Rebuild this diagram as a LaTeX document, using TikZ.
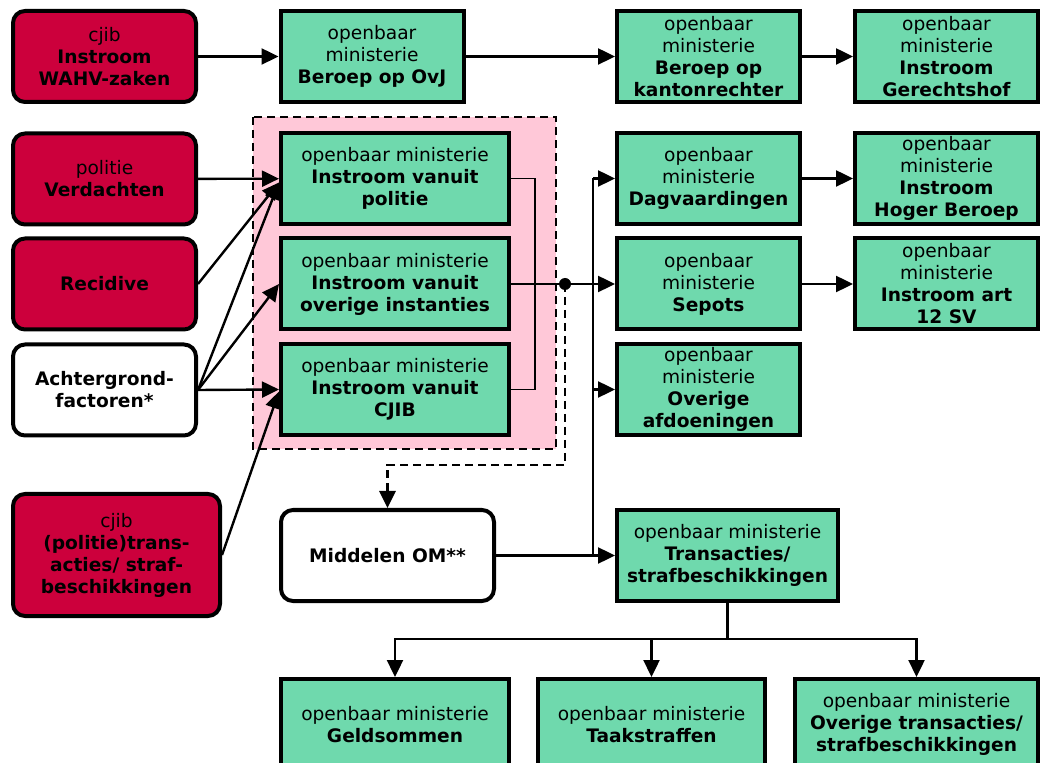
\documentclass[tikz,border=0pt]{standalone}
\usepackage{fontspec}
\setmainfont{DejaVu Sans}
\usetikzlibrary{arrows.meta}

\definecolor{omred}{RGB}{204,0,60}
\definecolor{omgreen}{RGB}{111,217,173}
\definecolor{ompink}{RGB}{255,200,216}

\tikzset{
  box/.style={draw=black, line width=2pt, align=center, inner sep=1pt,
    font=\fontsize{9.3}{11}\selectfont, minimum width=91.5pt, minimum height=45.5pt},
  redbox/.style={box, fill=omred, rounded corners=6pt},
  whitebox/.style={box, fill=white, rounded corners=6pt},
  greenbox/.style={box, fill=omgreen},
  link/.style={->, line width=1.2pt},
  thinlink/.style={line width=0.8pt},
  dashlink/.style={->, line width=1.4pt, dash pattern=on 4pt off 2.5pt}
}

\begin{document}
\begin{tikzpicture}[x=0.5pt, y=-0.5pt, >={Triangle[length=8.5pt,width=8pt]}]
  \useasboundingbox (0,0) rectangle (1042,763);
  % pink zone round the inflow boxes
  \draw[fill=ompink, line width=1.4pt, dash pattern=on 4pt off 2.5pt] (253,117) rectangle (556,449);

  % left column
  \node[redbox] (wahv) at (104.5,56.5) {cjib\\\textbf{Instroom}\\\textbf{WAHV-zaken}};
  \node[redbox] (verdachten) at (104.5,179) {politie\\\textbf{Verdachten}};
  \node[redbox] (recidive) at (104.5,284) {\textbf{Recidive}};
  \node[whitebox] (achtergrond) at (104.5,390) {\textbf{Achtergrond-}\\\textbf{factoren*}};
  \node[redbox, minimum width=103.5pt, minimum height=61pt] (transcjib) at (116.5,555)
    {cjib\\\textbf{(politie)trans-}\\\textbf{acties/ straf-}\\\textbf{beschikkingen}};

  % top row
  \node[greenbox] (ovj) at (372,56.5) {openbaar\\ministerie\\\textbf{Beroep op OvJ}};
  \node[greenbox] (kanton) at (708.5,56.5) {openbaar\\ministerie\\\textbf{Beroep op}\\\textbf{kantonrechter}};
  \node[greenbox] (hof) at (946.5,56.5) {openbaar\\ministerie\\\textbf{Instroom}\\\textbf{Gerechtshof}};

  % inflow
  \node[greenbox, minimum width=114pt] (politie) at (395,178.5) {openbaar ministerie\\\textbf{Instroom vanuit}\\\textbf{politie}};
  \node[greenbox, minimum width=114pt] (overig) at (395,284) {openbaar ministerie\\\textbf{Instroom vanuit}\\\textbf{overige instanties}};
  \node[greenbox, minimum width=114pt] (cjibin) at (395,389.5) {openbaar ministerie\\\textbf{Instroom vanuit}\\\textbf{CJIB}};

  % outflow
  \node[greenbox] (dagv) at (708.5,178.5) {openbaar\\ministerie\\\textbf{Dagvaardingen}};
  \node[greenbox] (hoger) at (946.5,178.5) {openbaar\\ministerie\\\textbf{Instroom}\\\textbf{Hoger Beroep}};
  \node[greenbox] (sepots) at (708.5,284) {openbaar\\ministerie\\\textbf{Sepots}};
  \node[greenbox] (art12) at (946.5,284) {openbaar\\ministerie\\\textbf{Instroom art}\\\textbf{12 SV}};
  \node[greenbox] (afdoen) at (708.5,389.5) {openbaar\\ministerie\\\textbf{Overige}\\\textbf{afdoeningen}};

  \node[whitebox, minimum width=106.5pt] (middelen) at (387.5,555.5) {\textbf{Middelen OM**}};
  \node[greenbox, minimum width=110.5pt] (transom) at (727.5,555.5) {openbaar ministerie\\\textbf{Transacties/}\\\textbf{strafbeschikkingen}};

  % bottom row
  \node[greenbox, minimum width=114pt, anchor=north] (geld) at (395,677) {openbaar ministerie\\\textbf{Geldsommen}};
  \node[greenbox, minimum width=113.5pt, anchor=north] (taak) at (651.5,677) {openbaar ministerie\\\textbf{Taakstraffen}};
  \node[greenbox, minimum width=121.5pt, anchor=north] (overtrans) at (916.5,677) {openbaar ministerie\\\textbf{Overige transacties/}\\\textbf{strafbeschikkingen}};

  \coordinate (polin) at ([yshift=-2pt]politie.west);
  \coordinate (split) at (565,284);
  \coordinate (bus) at (593,284);

  % connectors
  \draw[link] (wahv) -- (ovj);
  \draw[link] (ovj) -- (kanton);
  \draw[link] (kanton) -- (hof);
  \draw[link] (verdachten) -- (politie);
  \draw[link] (recidive.east) -- (polin);
  \draw[link] (achtergrond.east) -- (polin);
  \draw[link] (achtergrond.east) -- (overig.west);
  \draw[link] (achtergrond.east) -- (cjibin.west);
  \draw[link] (transcjib.east) -- ([yshift=-1pt]cjibin.west);

  \draw[thinlink] (politie.east) -- ++(24,0) |- (cjibin.east);
  \draw[thinlink] (overig.east) -- (split);
  \fill (split) circle (3pt);
  \draw[link] (split) -- (sepots);
  \draw[dashlink] (split) -- ++(0,181) -| (middelen.north);

  \draw[line width=1.2pt] (bus |- dagv) -- (bus |- transom);
  \draw[link] (bus |- dagv) -- (dagv);
  \draw[link] (bus |- afdoen) -- (afdoen);
  \draw[link] (middelen) -- (transom);
  \draw[link] (dagv) -- (hoger);
  \draw[link] (sepots) -- (art12);

  \draw[line width=1.2pt] (transom.south) -- ++(0,36) coordinate (fork);
  \draw[link] (fork) -| (geld);
  \draw[link] (fork) -| (taak);
  \draw[link] (fork) -| (overtrans);
\end{tikzpicture}
\end{document}
